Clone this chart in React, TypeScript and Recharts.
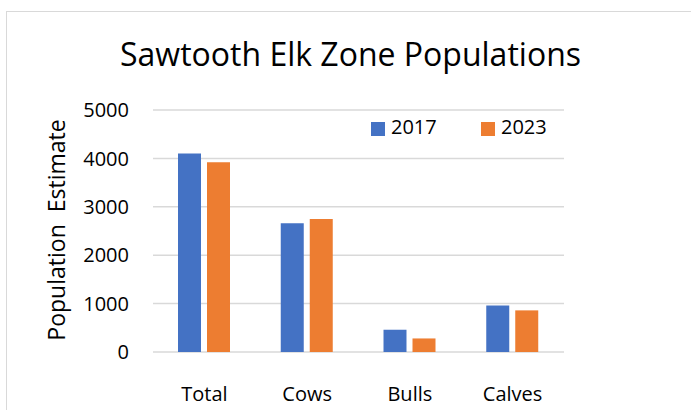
import React from 'react';
import { BarChart, Bar, XAxis, YAxis, CartesianGrid, Legend } from 'recharts';

const categories = ['Total', 'Cows', 'Bulls', 'Calves'];
const values2017 = [4100, 2660, 460, 960];
const values2023 = [3920, 2750, 280, 860];
const yTicks = [0, 1000, 2000, 3000, 4000, 5000];
const seriesNames = ['2017', '2023'];
const seriesColors = ['#4472C4', '#ED7D31'];

const data = categories.map((c, i) => ({ name: c, s2017: values2017[i], s2023: values2023[i] }));

const FONT = '"Open Sans", sans-serif';

const LegendContent = () => (
  <div style={{ display: 'flex', fontFamily: FONT, fontSize: 20, lineHeight: '28px', color: '#000' }}>
    {seriesNames.map((n, i) => (
      <div key={n} style={{ display: 'flex', alignItems: 'flex-start', width: 110 }}>
        <div style={{ width: 14, height: 14, background: seriesColors[i], marginTop: 9, marginRight: 6 }} />
        <span>{n}</span>
      </div>
    ))}
  </div>
);

export default function App() {
  return (
    <div style={{ position: 'absolute', left: 0, top: 0, width: 691, height: 410, background: '#fff' }}>
      <svg width={691} height={410} style={{ position: 'absolute', left: 0, top: 0 }}>
        <rect x={6.5} y={11.5} width={720} height={420} fill="none" stroke="#d9d9d9" strokeWidth={1} />
        <text x={350.5} y={66} textAnchor="middle" fontFamily={FONT} fontSize={32} fill="#000">
          Sawtooth Elk Zone Populations
        </text>
        <text
          x={65}
          y={230}
          textAnchor="middle"
          fontFamily={FONT}
          fontSize={23}
          fill="#000"
          transform="rotate(-90 65 230)"
          style={{ whiteSpace: 'pre' }}
        >
          {'Population  Estimate'}
        </text>
      </svg>
      <div style={{ position: 'absolute', left: 0, top: 0 }}>
        <BarChart
          width={691}
          height={410}
          data={data}
          margin={{ top: 110, right: 127, bottom: 18, left: 53 }}
          barSize={23}
          barGap={6}
        >
          <CartesianGrid vertical={false} stroke="#d9d9d9" strokeWidth={1.5} />
          <XAxis
            dataKey="name"
            height={40}
            axisLine={false}
            tickLine={false}
            tickSize={0}
            tickMargin={35}
            tick={{ fontFamily: FONT, fontSize: 20, fill: '#000' }}
            interval={0}
          />
          <YAxis
            width={100}
            domain={[0, 5000]}
            ticks={yTicks}
            axisLine={false}
            tickLine={false}
            tickSize={0}
            tickMargin={24}
            tick={{ fontFamily: FONT, fontSize: 20, fill: '#000' }}
          />
          <Legend
            layout="vertical"
            align="center"
            verticalAlign="middle"
            content={<LegendContent />}
            wrapperStyle={{ left: 371, top: 113, width: 240, height: 30 }}
          />
          <Bar dataKey="s2017" name={seriesNames[0]} fill={seriesColors[0]} isAnimationActive={false} />
          <Bar dataKey="s2023" name={seriesNames[1]} fill={seriesColors[1]} isAnimationActive={false} />
        </BarChart>
      </div>
    </div>
  );
}
